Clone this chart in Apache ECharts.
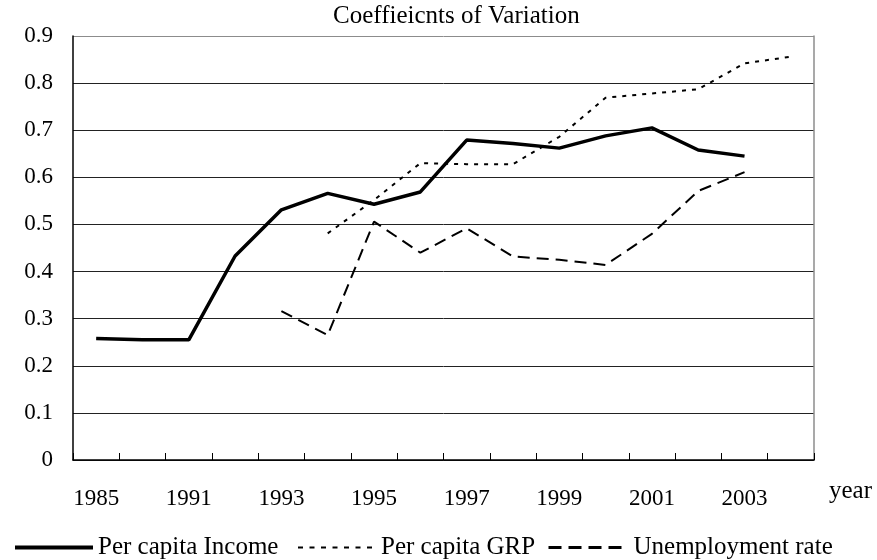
<!DOCTYPE html>
<html>
<head>
<meta charset="utf-8">
<script src="https://cdn.jsdelivr.net/npm/echarts@6/dist/echarts.min.js"></script>
<style>html,body{margin:0;padding:0;background:#fff}#c{width:877px;height:560px}</style>
</head>
<body>
<div id="c"></div>
<script>
const years = ['1985','1990','1991','1992','1993','1994','1995','1996','1997','1998','1999','2000','2001','2002','2003','2004'];
const incomeCV = [0.258,0.255,0.255,0.433,0.531,0.566,0.543,0.569,0.679,0.672,0.662,0.688,0.705,0.658,0.645,null];
const grpCV = [null,null,null,null,null,0.481,0.552,0.630,0.628,0.628,0.686,0.769,0.778,0.787,0.842,0.856];
const unempCV = [null,null,null,null,0.316,0.265,0.506,0.440,0.492,0.432,0.425,0.414,0.480,0.571,0.611,null];
const seriesNames = ['Per capita Income','Per capita GRP','Unemployment rate'];
const yTicks = [0,0.1,0.2,0.3,0.4,0.5,0.6,0.7,0.8,0.9];

const FONT = '"Liberation Serif","Times New Roman",serif';
const chart = echarts.init(document.getElementById('c'), null, {renderer:'canvas'});
const gridColors = yTicks.map((v,i)=> i===yTicks.length-1 ? '#8c8c8c' : '#222');
function legendAt(left, width, name, lw, dash){
  return {
    left:left, top:535, padding:0, itemWidth:width, itemHeight:12,
    textStyle:{fontFamily:FONT,fontSize:25,color:'#000'},
    itemStyle:{opacity:0},
    data:[{name:name, itemStyle:{opacity:0}, lineStyle:{width:lw, type:dash, color:'#000'}}]
  };
}
chart.setOption({
  animation:false,
  backgroundColor:'#fff',
  title:{text:'Coeffieicnts of Variation', left:333, top:4, padding:0, textStyle:{fontFamily:FONT,fontSize:25,fontWeight:'normal',color:'#000'}},
  grid:{left:73,right:63,top:36,bottom:100,containLabel:false},
  legend:[
    legendAt(13, 78, seriesNames[0], 4, 'solid'),
    legendAt(297, 78, seriesNames[1], 2, [5,6.5]),
    legendAt(547, 80, seriesNames[2], 3, [13,7])
  ],
  graphic:[{type:'text', left:829, top:479, style:{text:'year', font:'25px ' + FONT, fill:'#000'}}],
  xAxis:{
    type:'category', data:years, boundaryGap:true,
    axisLine:{lineStyle:{color:'#000',width:1.5}},
    axisTick:{show:true,inside:true,length:7,interval:0,lineStyle:{color:'#000',width:1}},
    axisLabel:{interval:1,margin:27,fontFamily:FONT,fontSize:23,color:'#000'},
    splitLine:{show:false}
  },
  yAxis:[{
    type:'value', min:0, max:0.9, interval:0.1,
    axisLine:{show:true,lineStyle:{color:'#000',width:1.5}},
    axisTick:{show:false},
    axisLabel:{margin:20,fontFamily:FONT,fontSize:23,color:'#000',formatter:v=>String(Math.round(v*10)/10)},
    splitLine:{show:true,lineStyle:{color:gridColors,width:1}}
  },{
    type:'value', min:0, max:0.9, interval:0.1, position:'right',
    axisLine:{show:true,lineStyle:{color:'#8c8c8c',width:1.5}},
    axisTick:{show:false}, axisLabel:{show:false}, splitLine:{show:false}
  }],
  series:[
    {name:seriesNames[0], type:'line', data:incomeCV, symbol:'none', connectNulls:false,
     lineStyle:{color:'#000',width:3.5,type:'solid'}, itemStyle:{color:'#000'}},
    {name:seriesNames[1], type:'line', data:grpCV, symbol:'none',
     lineStyle:{color:'#000',width:2,type:[4,6]}, itemStyle:{color:'#000'}},
    {name:seriesNames[2], type:'line', data:unempCV, symbol:'none',
     lineStyle:{color:'#000',width:2,type:[12,7]}, itemStyle:{color:'#000'}}
  ]
});
</script>
</body>
</html>
